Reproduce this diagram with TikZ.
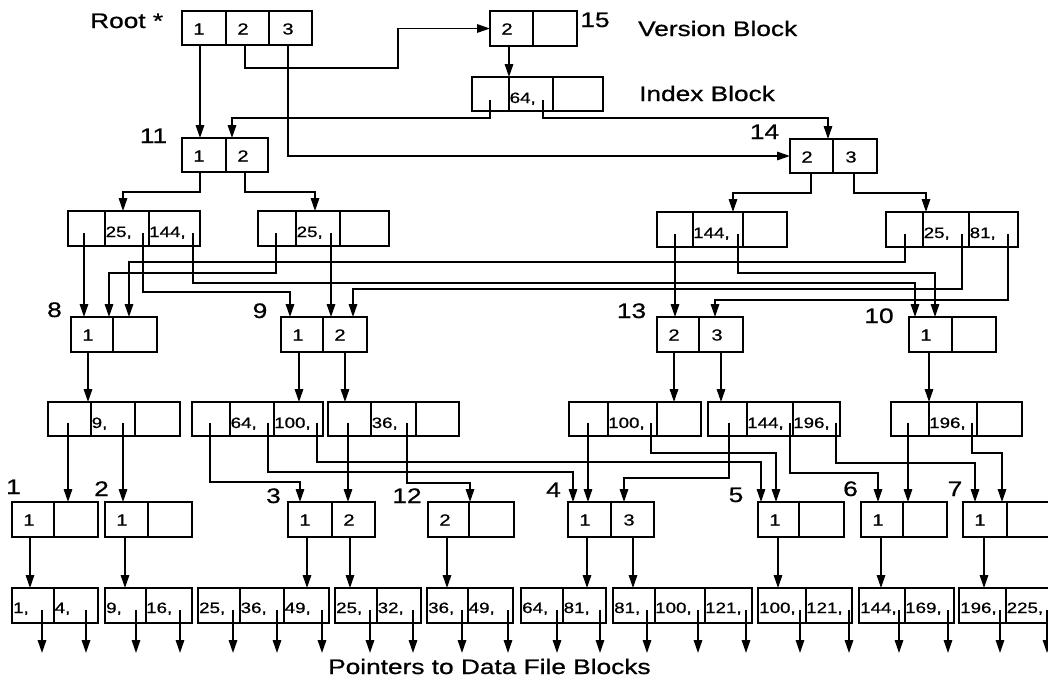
\documentclass[tikz,border=0pt]{standalone}
\usepackage{fontspec}
\setmainfont{Liberation Sans}
\newfontfamily\scanfont{Liberation Sans}[FakeBold=0.7]
\usepackage{graphicx}
\usetikzlibrary{arrows.meta}
\newcommand\hs[1]{\scalebox{1.25}[1]{#1}}
\newcommand\blk[6]{%
  \node[blk, minimum width={#4-#2}, minimum height={#5-#3}] (#1) at ({(#2+#4)/2},{(#3+#5)/2}) {};
  \foreach \dv in {#6} {\draw[blk line] (\dv,#3) -- (\dv,#5);}}
\begin{document}
\begin{tikzpicture}[x=1pt,y=-1pt,
  blk/.style={draw, rectangle, line width=1.8pt, inner sep=0pt, outer sep=0pt},
  blk line/.style={line width=1.6pt},
  ptr/.style={line width=1.5pt, -{Triangle[length=13pt,width=8.5pt]}},
  lbl/.style={inner sep=0pt, font=\scanfont\fontsize{21}{21}\selectfont},
  ct/.style={inner sep=0pt, anchor=base west, font=\scanfont\fontsize{15}{15}\selectfont},
  dg/.style={inner sep=0pt, anchor=base, font=\scanfont\fontsize{16}{16}\selectfont}]
\useasboundingbox (0,0) rectangle (1048,681);

% ---------- blocks ----------
\blk{root}{182}{11}{312}{45}{226,269}
\blk{ver}{490}{11}{577}{46}{533}
\blk{idx}{472}{77}{603}{111}{509,553}
\blk{n11}{182}{138}{268}{172}{226}
\blk{n14}{790}{139}{877}{173}{833}
\blk{A}{68}{211}{200}{246}{105,149}
\blk{B}{258}{211}{389}{246}{296,340}
\blk{C}{657}{212}{787}{247}{693,743}
\blk{D}{886}{212}{1018}{247}{923,969}
\blk{n8}{71}{317}{157}{352}{113}
\blk{n9}{281}{317}{367}{352}{323}
\blk{n13}{657}{317}{743}{352}{699}
\blk{n10}{909}{317}{996}{352}{952}
\blk{E}{48}{402}{180}{436}{91,135}
\blk{F}{192}{402}{323}{436}{230,274}
\blk{G}{328}{402}{459}{436}{371,416}
\blk{H}{569}{402}{701}{436}{608,657}
\blk{I}{708}{402}{840}{436}{747,793}
\blk{J}{891}{402}{1022}{436}{929,977}
\blk{n1}{12}{502}{98}{537}{54}
\blk{n2}{105}{502}{192}{537}{148}
\blk{n3}{288}{502}{375}{537}{332}
\blk{n12}{428}{502}{514}{537}{469}
\blk{n4}{568}{502}{654}{537}{611}
\blk{n5}{758}{502}{844}{537}{799}
\blk{n6}{861}{502}{947}{537}{903}
\blk{n7}{963}{502}{1052}{537}{1007}
\blk{L1}{12}{588}{98}{623}{54}
\blk{L2}{105}{588}{192}{623}{146}
\blk{L3}{198}{588}{329}{623}{240,284}
\blk{L4}{335}{588}{421}{623}{377}
\blk{L5}{427}{588}{513}{623}{468}
\blk{L6}{521}{588}{606}{623}{563}
\blk{L7}{613}{588}{752}{623}{655,705}
\blk{L8}{758}{588}{852}{623}{806}
\blk{L9}{859}{588}{954}{623}{905}
\blk{L10}{959}{588}{1058}{623}{1006}

% ---------- labels ----------
\node[lbl, anchor=base west] (lroot) at (90,28) {\hs{Root *}};
\node[lbl, anchor=base] (l15) at (595,27) {\hs{15}};
\node[lbl, anchor=base west] (lver) at (638,36) {\hs{Version Block}};
\node[lbl, anchor=base west] (lidx) at (639,101) {\hs{Index Block}};
\node[lbl, anchor=base] (l11) at (153.5,143) {\hs{11}};
\node[lbl, anchor=base] (l14) at (764.5,139) {\hs{14}};
\node[lbl, anchor=base] (l8) at (54.5,317) {\hs{8}};
\node[lbl, anchor=base] (l9) at (260,318) {\hs{9}};
\node[lbl, anchor=base] (l13) at (631.5,318) {\hs{13}};
\node[lbl, anchor=base] (l10) at (879,323) {\hs{10}};
\node[lbl, anchor=base] (l1) at (13.5,494) {\hs{1}};
\node[lbl, anchor=base] (l2) at (101.5,496) {\hs{2}};
\node[lbl, anchor=base] (l3) at (273.5,503) {\hs{3}};
\node[lbl, anchor=base] (l12) at (407,503) {\hs{12}};
\node[lbl, anchor=base] (l4) at (553.5,497) {\hs{4}};
\node[lbl, anchor=base] (l5) at (736,502) {\hs{5}};
\node[lbl, anchor=base] (l6) at (850.5,496) {\hs{6}};
\node[lbl, anchor=base] (l7) at (955,496) {\hs{7}};
\node[lbl, anchor=base west] (lptr) at (328,674) {\hs{Pointers to Data File Blocks}};

% ---------- digits in node blocks ----------
\node[dg] (root-1) at (199,34.5) {\hs{1}};
\node[dg] (root-2) at (243,34.5) {\hs{2}};
\node[dg] (root-3) at (288,34.5) {\hs{3}};
\node[dg] (ver-1) at (507,34.5) {\hs{2}};
\node[dg] (n11-1) at (199,161.5) {\hs{1}};
\node[dg] (n11-2) at (243,161.5) {\hs{2}};
\node[dg] (n14-1) at (807,162.5) {\hs{2}};
\node[dg] (n14-2) at (851,162.5) {\hs{3}};
\node[dg] (n8-1) at (88,340.5) {\hs{1}};
\node[dg] (n9-1) at (298,340.5) {\hs{1}};
\node[dg] (n9-2) at (340,340.5) {\hs{2}};
\node[dg] (n13-1) at (674,340.5) {\hs{2}};
\node[dg] (n13-2) at (717,340.5) {\hs{3}};
\node[dg] (n10-1) at (926,340.5) {\hs{1}};
\node[dg] (n1-1) at (29,525.5) {\hs{1}};
\node[dg] (n2-1) at (122,525.5) {\hs{1}};
\node[dg] (n3-1) at (305,525.5) {\hs{1}};
\node[dg] (n3-2) at (349,525.5) {\hs{2}};
\node[dg] (n12-1) at (445,525.5) {\hs{2}};
\node[dg] (n4-1) at (585,525.5) {\hs{1}};
\node[dg] (n4-2) at (629,525.5) {\hs{3}};
\node[dg] (n5-1) at (775,525.5) {\hs{1}};
\node[dg] (n6-1) at (878,525.5) {\hs{1}};
\node[dg] (n7-1) at (980,525.5) {\hs{1}};

% ---------- keys in index blocks ----------
\node[ct] (idx-2) at (509.5,103) {\hs{64,}};
\node[ct] (A-2) at (105.5,237) {\hs{25,}};
\node[ct] (A-3) at (149,237) {\hs{144,}};
\node[ct] (B-2) at (296.5,237) {\hs{25,}};
\node[ct] (C-2) at (693,238) {\hs{144,}};
\node[ct] (D-2) at (923.5,238) {\hs{25,}};
\node[ct] (D-3) at (969.5,238) {\hs{81,}};
\node[ct] (E-2) at (91.5,428) {\hs{9,}};
\node[ct] (F-2) at (230.5,428) {\hs{64,}};
\node[ct] (F-3) at (274,428) {\hs{100,}};
\node[ct] (G-2) at (371.5,428) {\hs{36,}};
\node[ct] (H-2) at (608,428) {\hs{100,}};
\node[ct] (I-2) at (747,428) {\hs{144,}};
\node[ct] (I-3) at (793,428) {\hs{196,}};
\node[ct] (J-2) at (929,428) {\hs{196,}};
% leaves
\node[ct] (L1-1) at (13,613) {\hs{1,}};
\node[ct] (L1-2) at (54.5,613) {\hs{4,}};
\node[ct] (L2-1) at (106,613) {\hs{9,}};
\node[ct] (L2-2) at (146,613) {\hs{16,}};
\node[ct] (L3-1) at (199,613) {\hs{25,}};
\node[ct] (L3-2) at (240.5,613) {\hs{36,}};
\node[ct] (L3-3) at (284.5,613) {\hs{49,}};
\node[ct] (L4-1) at (336,613) {\hs{25,}};
\node[ct] (L4-2) at (377.5,613) {\hs{32,}};
\node[ct] (L5-1) at (428,613) {\hs{36,}};
\node[ct] (L5-2) at (468.5,613) {\hs{49,}};
\node[ct] (L6-1) at (522,613) {\hs{64,}};
\node[ct] (L6-2) at (563.5,613) {\hs{81,}};
\node[ct] (L7-1) at (614,613) {\hs{81,}};
\node[ct] (L7-2) at (655,613) {\hs{100,}};
\node[ct] (L7-3) at (705,613) {\hs{121,}};
\node[ct] (L8-1) at (759,613) {\hs{100,}};
\node[ct] (L8-2) at (806,613) {\hs{121,}};
\node[ct] (L9-1) at (860,613) {\hs{144,}};
\node[ct] (L9-2) at (905,613) {\hs{169,}};
\node[ct] (L10-1) at (960,613) {\hs{196,}};
\node[ct] (L10-2) at (1006.5,613) {\hs{225,}};

% ---------- connectors: top ----------
\draw[ptr] (200,0 |- root.south) -- (200,0 |- n11.north);
\draw[ptr] (245,0 |- root.south) |- (398,68) |- (ver.west);
\draw[ptr] (288,0 |- root.south) |- (n14.west);
\draw[ptr] (509,0 |- ver.south) -- (509,0 |- idx.north);
\draw[ptr] (490,100) |- (232,118) -- (232,0 |- n11.north);
\draw[ptr] (543,100) |- (828,118) -- (828,0 |- n14.north);
\draw[ptr] (200,0 |- n11.south) |- (123,192) -- (123,0 |- A.north);
\draw[ptr] (245,0 |- n11.south) |- (315,192) -- (315,0 |- B.north);
\draw[ptr] (811,0 |- n14.south) |- (733,193) -- (733,0 |- C.north);
\draw[ptr] (854,0 |- n14.south) |- (926,193) -- (926,0 |- D.north);

% ---------- connectors: level 3 -> 4 ----------
\draw[ptr] (84,233) -- (84,0 |- n8.north);
\draw[ptr] (276,233) |- (109,273) -- (109,0 |- n8.north);
\draw[ptr] (905,234) |- (129,262) -- (129,0 |- n8.north);
\draw[ptr] (143,233) |- (290,292) -- (290,0 |- n9.north);
\draw[ptr] (331,233) -- (331,0 |- n9.north);
\draw[ptr] (962,234) |- (353,289) -- (353,0 |- n9.north);
\draw[ptr] (675,234) -- (675,0 |- n13.north);
\draw[ptr] (1008,234) |- (715,300) -- (715,0 |- n13.north);
\draw[ptr] (193,233) |- (915,283) -- (915,0 |- n10.north);
\draw[ptr] (738,234) |- (935,273) -- (935,0 |- n10.north);

% ---------- connectors: level 4 -> 5 ----------
\draw[ptr] (88,0 |- n8.south) -- (88,0 |- E.north);
\draw[ptr] (299,0 |- n9.south) -- (299,0 |- F.north);
\draw[ptr] (345,0 |- n9.south) -- (345,0 |- G.north);
\draw[ptr] (674,0 |- n13.south) -- (674,0 |- H.north);
\draw[ptr] (721,0 |- n13.south) -- (721,0 |- I.north);
\draw[ptr] (929,0 |- n10.south) -- (929,0 |- J.north);

% ---------- connectors: level 5 -> 6 ----------
\draw[ptr] (68,423) -- (68,0 |- n1.north);
\draw[ptr] (123,423) -- (123,0 |- n2.north);
\draw[ptr] (210,423) |- (300,482) -- (300,0 |- n3.north);
\draw[ptr] (348,423) -- (348,0 |- n3.north);
\draw[ptr] (268,423) |- (573,472) -- (573,0 |- n4.north);
\draw[ptr] (588,423) -- (588,0 |- n4.north);
\draw[ptr] (729,423) |- (624,478) -- (624,0 |- n4.north);
\draw[ptr] (407,423) |- (470,483) -- (470,0 |- n12.north);
\draw[ptr] (317,423) |- (761,462) -- (761,0 |- n5.north);
\draw[ptr] (651,423) |- (776,453) -- (776,0 |- n5.north);
\draw[ptr] (790,423) |- (878,473) -- (878,0 |- n6.north);
\draw[ptr] (908,423) -- (908,0 |- n6.north);
\draw[ptr] (836,423) |- (975,463) -- (975,0 |- n7.north);
\draw[ptr] (972,423) |- (1002,453) -- (1002,0 |- n7.north);

% ---------- connectors: level 6 -> leaves ----------
\draw[ptr] (30,0 |- n1.south) -- (30,0 |- L1.north);
\draw[ptr] (125,0 |- n2.south) -- (125,0 |- L2.north);
\draw[ptr] (307,0 |- n3.south) -- (307,0 |- L3.north);
\draw[ptr] (350,0 |- n3.south) -- (350,0 |- L4.north);
\draw[ptr] (447,0 |- n12.south) -- (447,0 |- L5.north);
\draw[ptr] (587,0 |- n4.south) -- (587,0 |- L6.north);
\draw[ptr] (633,0 |- n4.south) -- (633,0 |- L7.north);
\draw[ptr] (778,0 |- n5.south) -- (778,0 |- L8.north);
\draw[ptr] (881,0 |- n6.south) -- (881,0 |- L9.north);
\draw[ptr] (984,0 |- n7.south) -- (984,0 |- L10.north);

% ---------- data pointers ----------
\foreach \px in {42,86,136,180,233,277,322,370,413,462,508,557,600,647,698,746,800,849,899,948,1000,1047}
  \draw[ptr] (\px,610) -- (\px,653);
\end{tikzpicture}
\end{document}
